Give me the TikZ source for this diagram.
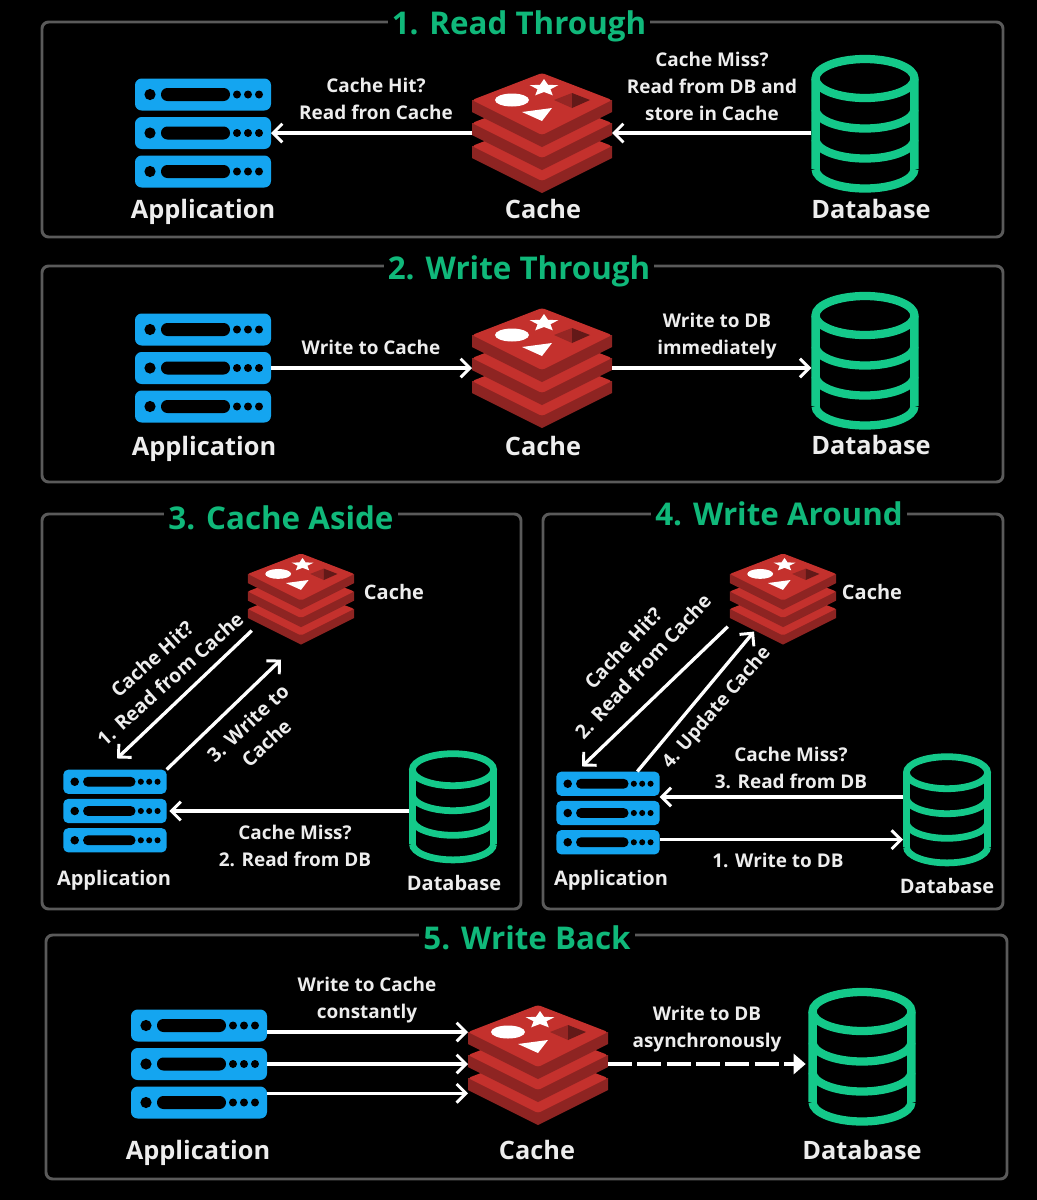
\documentclass[tikz,border=0pt]{standalone}
\usepackage{fontspec}
\setmainfont{Open Sans}
\usetikzlibrary{arrows.meta,positioning}

\definecolor{appblue}{HTML}{14A5F0}
\definecolor{dbgreen}{HTML}{14C98A}
\definecolor{titlegreen}{HTML}{10B87A}
\definecolor{framegray}{HTML}{5A5A5A}
\definecolor{cachered}{HTML}{C4312D}
\definecolor{cachedark}{HTML}{8E2422}
\definecolor{textwhite}{HTML}{EDEDED}

\tikzset{
	x = .75pt, y = -.75pt,
	frame/.style = {draw = framegray, line width = 2.2pt, rounded corners = 5pt},
	heading/.style = {fill = black, text = titlegreen, font = \bfseries\fontsize{23.5}{28}\selectfont, text height = 17pt, text depth = 0pt, inner xsep = 3pt, inner ysep = 3pt},
	name big/.style = {text = textwhite, font = \bfseries\fontsize{19}{23}\selectfont, text height = 14.5pt, text depth = 0pt},
	name small/.style = {text = textwhite, font = \bfseries\fontsize{15}{18}\selectfont, text height = 11.5pt, text depth = 0pt},
	note/.style = {text = textwhite, align = center, font = \bfseries\fontsize{14.2}{20.25}\selectfont, inner sep = 0pt},
	slanted note/.style = {note, font = \bfseries\fontsize{14.7}{20.25}\selectfont},
	link/.style = {draw = white, line width = 2.5pt, -{Straight Barb[length = 7pt, width = 14pt, line width = 2.2pt]}},
	dashlink/.style = {draw = white, line width = 2.5pt, dash pattern = on 18pt off 4pt, -{Triangle[length = 9pt, width = 15pt]}},
	application/.style = {
		minimum width = #1*102pt, minimum height = #1*82pt, inner sep = 0pt, outer sep = 0pt,
		path picture = {
			\begin{scope}[shift = {(path picture bounding box.center)}, x = #1*.75pt, y = -#1*.75pt]
				\foreach \y in {-38.5, 0, 38.5} {
					\fill [appblue, rounded corners = #1*5pt] (-68, \y-16) rectangle (68, \y+16);
					\fill [black] (-53, \y) circle [radius = 5.6];
					\fill [black, rounded corners = #1*4.8pt] (-42, \y-6.5) rectangle (27, \y+6.5);
					\foreach \d in {34, 45, 56} {\fill [black] (\d, \y) circle [radius = 4];}
				}
			\end{scope}
		}
	},
	application/.default = 1,
	database/.style = {
		minimum width = #1*80.5pt, minimum height = #1*104pt, inner sep = 0pt, outer sep = 0pt,
		path picture = {
			\begin{scope}[shift = {(path picture bounding box.center)}, x = #1*.75pt, y = -#1*.75pt, draw = dbgreen, line width = #1*6.2pt]
				\draw (0, -45.5) ellipse [x radius = 49.5, y radius = 19.5];
				\draw (-49.5, -45.5) -- (-49.5, 45);
				\draw (49.5, -45.5) -- (49.5, 45);
				\foreach \y in {-15, 15, 45} {\draw (-49.5, \y) arc [start angle = 180, end angle = 360, x radius = 49.5, y radius = -19.5];}
			\end{scope}
		}
	},
	database/.default = 1,
	cache/.style = {
		minimum width = #1*105pt, minimum height = #1*90pt, inner sep = 0pt, outer sep = 0pt,
		path picture = {
			\begin{scope}[shift = {(path picture bounding box.center)}, x = #1*.75pt, y = -#1*.75pt]
				\foreach \y in {46, 23, 0} {
					\fill [cachedark] (-70, \y-33) -- (-70, \y-21) -- (0, \y+14) -- (70, \y-21) -- (70, \y-33) -- cycle;
					\fill [cachered, rounded corners = #1*2pt] (-70, \y-33) -- (0, \y-60) -- (70, \y-33) -- (0, \y+2) -- cycle;
				}
				\fill [white] (-30, -33) ellipse [x radius = 17, y radius = 6.5];
				\fill [white] (2, -54) -- (6, -48.2) -- (16.3, -47.8) -- (8.4, -43.8) -- (10.8, -37.7) -- (2, -41) -- (-6.8, -37.7) -- (-4.4, -43.8) -- (-12.3, -47.8) -- (-2, -48.2) -- cycle;
				\fill [white] (-20, -21) -- (10, -25) -- (0, -12) -- cycle;
				\fill [cachedark!85!cachered] (12, -33) -- (30, -40) -- (30, -25) -- cycle;
				\fill [cachedark!70!black] (30, -40) -- (48, -33) -- (30, -25) -- cycle;
			\end{scope}
		}
	},
	cache/.default = 1
}

\begin{document}
\begin{tikzpicture}
	\useasboundingbox [fill = black] (0, 0) rectangle (1037, 1200);

	\draw [frame] (42, 22) rectangle (1003, 237);
	\draw [frame] (42, 266) rectangle (1003, 482);
	\draw [frame] (42, 514) rectangle (521, 909);
	\draw [frame] (543, 514) rectangle (1003, 909);
	\draw [frame] (46, 935) rectangle (1007, 1179);

	% 1. read through
	\node (t1) [heading] at (519, 23) {1. Read Through};
	\node (a1) [application] at (203, 133) {};
	\node (c1) [cache] at (542, 133) {};
	\node (d1) [database] at (865, 124) {};
	\node (la1) [name big] at (203, 209) {Application};
	\node (lc1) [name big] at (543, 209) {Cache};
	\node (ld1) [name big] at (871, 209) {Database};
	\node (n11) [note] at (376, 99) {Cache Hit?\\Read fron Cache};
	\node (n12) [note] at (712, 86) {Cache Miss?\\Read from DB and\\store in Cache};
	\path
	(c1.west) edge [link] (a1.east)
	(d1.west |- c1.east) edge [link] (c1.east);

	% 2. write through
	\node (t2) [heading] at (519, 268) {2. Write Through};
	\node (a2) [application] at (203, 368) {};
	\node (c2) [cache] at (542, 368) {};
	\node (d2) [database] at (865, 361) {};
	\node (la2) [name big] at (204, 446) {Application};
	\node (lc2) [name big] at (543, 446) {Cache};
	\node (ld2) [name big] at (871, 445) {Database};
	\node (n21) [note] at (371, 347) {Write to Cache};
	\node (n22) [note] at (717, 336) {Write to DB\\immediately};
	\path
	(a2.east) edge [link] (c2.west)
	(c2.east) edge [link] (d2.west |- c2.east);

	% 3. cache aside
	\node (t3) [heading] at (281, 518) {3. Cache Aside};
	\node (a3) [application = .76] at (115, 811) {};
	\node (c3) [cache = .76] at (301, 599) {};
	\node (d3) [database = .82] at (453, 807) {};
	\node (la3) [name small] at (114, 878) {Application};
	\node (lc3) [name small] at (394, 592) {Cache};
	\node (ld3) [name small] at (454, 883) {Database};
	\node (n31) [slanted note, rotate = 42] at (161, 669) {Cache Hit?\\1. Read from Cache};
	\node (n32) [slanted note, rotate = 43] at (257, 733) {3. Write to\\Cache};
	\node (n33) [note] at (295, 846) {Cache Miss?\\2. Read from DB};
	\path
	([shift = {(4, -14)}]c3.south west) edge [link] ([shift = {(2, -11)}]a3.north)
	(a3.north east) edge [link] ([shift = {(-20, 15)}]c3.south)
	(d3.west |- a3.east) edge [link] ([xshift = 2pt]a3.east);

	% 4. write around
	\node (t4) [heading] at (779, 514) {4. Write Around};
	\node (a4) [application = .76] at (608, 813) {};
	\node (c4) [cache = .76] at (783, 599) {};
	\node (d4) [database = .82] at (947, 810) {};
	\node (la4) [name small] at (611, 878) {Application};
	\node (lc4) [name small] at (872, 592) {Cache};
	\node (ld4) [name small] at (947, 886) {Database};
	\node (n41) [slanted note, rotate = 47] at (633, 657) {Cache Hit?\\2. Read from Cache};
	\node (n42) [note, rotate = 49] at (717, 708) {4. Update Cache};
	\node (n43) [note] at (791, 768) {Cache Miss?\\3. Read from DB};
	\node (n44) [note] at (778, 860) {1. Write to DB};
	\coordinate (a4t) at ([yshift = 12pt]a4.center);
	\coordinate (a4b) at ([yshift = -20pt]a4.center);
	\path
	([shift = {(-2, -18)}]c4.south west) edge [link] ([shift = {(-26, -5)}]a4.north)
	([xshift = 22pt]a4.north) edge [link] ([shift = {(-29, -13)}]c4.south)
	(d4.west |- a4t) edge [link] (a4.east |- a4t)
	(a4.east |- a4b) edge [link] (d4.west |- a4b);

	% 5. write back
	\node (t5) [heading] at (527, 938) {5. Write Back};
	\node (a5) [application] at (199, 1064) {};
	\node (c5) [cache] at (538, 1065) {};
	\node (d5) [database] at (862, 1057) {};
	\node (la5) [name big] at (198, 1150) {Application};
	\node (lc5) [name big] at (537, 1150) {Cache};
	\node (ld5) [name big] at (862, 1150) {Database};
	\node (n51) [note] at (367, 1000) {Write to Cache\\constantly};
	\node (n52) [note] at (707, 1029) {Write to DB\\asynchronously};
	\coordinate (a5t) at ([yshift = 24pt]a5.center);
	\coordinate (a5b) at ([yshift = -22pt]a5.center);
	\path
	(a5.east |- a5t) edge [link] (c5.west |- a5t)
	(a5.east) edge [link] (c5.west |- a5.east)
	(a5.east |- a5b) edge [link] (c5.west |- a5b)
	(c5.east |- a5.east) edge [dashlink] ([xshift = -2pt]d5.west |- a5.east);
\end{tikzpicture}
\end{document}
